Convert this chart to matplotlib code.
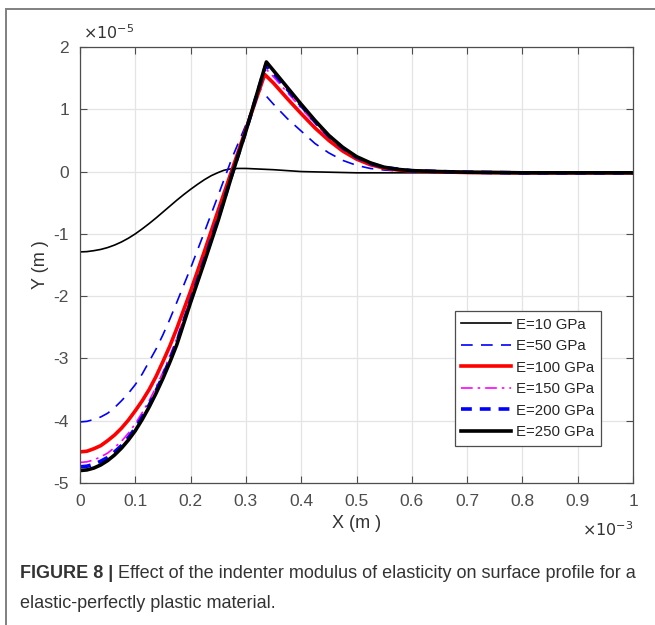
import matplotlib
matplotlib.use("Agg")
import matplotlib.pyplot as plt
from matplotlib.patches import Rectangle
from matplotlib.ticker import FuncFormatter

# surface profiles; x in 1e-3 m, y in 1e-5 m
x_e10 = [0, 0.0125, 0.025, 0.0375, 0.05, 0.0625, 0.075, 0.0875, 0.1, 0.1125, 0.125, 0.1375,
         0.15, 0.1625, 0.175, 0.1875, 0.2, 0.2125, 0.225, 0.2375, 0.25, 0.26, 0.27, 0.285,
         0.3, 0.35, 0.4, 0.45, 0.5, 0.6, 0.8, 1.0]
y_e10 = [-1.29, -1.285, -1.27, -1.25, -1.22, -1.18, -1.13, -1.07, -1.0, -0.92, -0.835, -0.745,
         -0.65, -0.555, -0.46, -0.37, -0.285, -0.205, -0.13, -0.065, -0.015, 0.02, 0.04, 0.05,
         0.05, 0.03, 0.0, -0.01, -0.02, -0.02, -0.02, -0.02]

x_e50 = [0, 0.0125, 0.025, 0.0375, 0.05, 0.0625, 0.075, 0.0875, 0.1, 0.1125, 0.125, 0.1375,
         0.15, 0.1625, 0.175, 0.2, 0.225, 0.25, 0.275, 0.3, 0.326,
         0.35, 0.375, 0.4, 0.425, 0.45, 0.475, 0.5, 0.525, 0.55, 0.575, 0.6, 0.7, 0.8, 1.0]
y_e50 = [-4.02, -4.01, -3.98, -3.94, -3.88, -3.79, -3.68, -3.56, -3.42, -3.25, -3.05, -2.85,
         -2.62, -2.37, -2.10, -1.55, -0.97, -0.38, 0.22, 0.75, 1.32,
         1.08, 0.85, 0.65, 0.45, 0.30, 0.18, 0.10, 0.05, 0.025, 0.01, 0.0, -0.015, -0.02, -0.02]

x_e100 = [0, 0.0125, 0.025, 0.0375, 0.05, 0.0625, 0.075, 0.0875, 0.1, 0.1125, 0.125, 0.1375,
          0.15, 0.1625, 0.175, 0.2, 0.225, 0.25, 0.275, 0.3, 0.334,
          0.35, 0.375, 0.4, 0.425, 0.45, 0.475, 0.5, 0.525, 0.55, 0.575, 0.6, 0.65, 0.7, 0.8, 1.0]
y_e100 = [-4.50, -4.49, -4.45, -4.40, -4.32, -4.23, -4.12, -3.99, -3.84, -3.68, -3.50, -3.29,
          -3.05, -2.80, -2.52, -1.92, -1.28, -0.62, 0.03, 0.68, 1.56,
          1.42, 1.17, 0.93, 0.70, 0.50, 0.33, 0.20, 0.11, 0.055, 0.025, 0.01, -0.005, -0.015, -0.02, -0.02]

x_e150 = [0, 0.0125, 0.025, 0.0375, 0.05, 0.0625, 0.075, 0.0875, 0.1, 0.1125, 0.125, 0.1375,
          0.15, 0.1625, 0.175, 0.2, 0.225, 0.25, 0.275, 0.3, 0.335,
          0.35, 0.375, 0.4, 0.425, 0.45, 0.475, 0.5, 0.525, 0.55, 0.6, 0.65, 0.7, 0.8, 1.0]
y_e150 = [-4.67, -4.66, -4.63, -4.58, -4.52, -4.43, -4.33, -4.20, -4.05, -3.87, -3.68, -3.46,
          -3.22, -2.96, -2.68, -2.03, -1.39, -0.72, -0.02, 0.66, 1.66,
          1.52, 1.27, 1.02, 0.77, 0.55, 0.37, 0.22, 0.125, 0.06, 0.012, 0.0, -0.01, -0.02, -0.02]

x_e200 = [0, 0.0125, 0.025, 0.0375, 0.05, 0.0625, 0.075, 0.0875, 0.1, 0.1125, 0.125, 0.1375,
          0.15, 0.1625, 0.175, 0.2, 0.225, 0.25, 0.275, 0.3, 0.336,
          0.35, 0.375, 0.4, 0.425, 0.45, 0.475, 0.5, 0.525, 0.55, 0.6, 0.65, 0.7, 0.8, 1.0]
y_e200 = [-4.74, -4.73, -4.70, -4.65, -4.59, -4.50, -4.40, -4.27, -4.12, -3.94, -3.75, -3.52,
          -3.28, -3.02, -2.74, -2.07, -1.42, -0.75, -0.04, 0.65, 1.71,
          1.58, 1.32, 1.06, 0.80, 0.57, 0.38, 0.23, 0.13, 0.065, 0.014, 0.0, -0.01, -0.02, -0.02]

x_e250 = [0, 0.0125, 0.025, 0.0375, 0.05, 0.0625, 0.075, 0.0875, 0.1, 0.1125, 0.125, 0.1375,
          0.15, 0.1625, 0.175, 0.2, 0.225, 0.25, 0.275, 0.3, 0.337,
          0.35, 0.375, 0.4, 0.425, 0.45, 0.475, 0.5, 0.525, 0.55, 0.575, 0.6, 0.65, 0.7, 0.8, 1.0]
y_e250 = [-4.80, -4.79, -4.76, -4.71, -4.64, -4.55, -4.44, -4.31, -4.16, -3.98, -3.78, -3.56,
          -3.32, -3.06, -2.78, -2.10, -1.45, -0.78, -0.05, 0.65, 1.76,
          1.62, 1.35, 1.08, 0.82, 0.58, 0.39, 0.24, 0.14, 0.07, 0.035, 0.015, 0.0, -0.01, -0.02, -0.02]

labels = ["E=10 GPa", "E=50 GPa", "E=100 GPa", "E=150 GPa", "E=200 GPa", "E=250 GPa"]
x_ticks = [0, 0.1, 0.2, 0.3, 0.4, 0.5, 0.6, 0.7, 0.8, 0.9, 1.0]
y_ticks = [-5, -4, -3, -2, -1, 0, 1, 2]

plt.rcParams["axes.unicode_minus"] = False
plt.rcParams["font.family"] = ["Liberation Sans", "DejaVu Sans"]

fig = plt.figure(figsize=(6.55, 6.25), dpi=100)
ax = fig.add_axes([80 / 655, 142 / 625, 553 / 655, 436 / 625])

series = [(x_e10, y_e10), (x_e50, y_e50), (x_e100, y_e100),
          (x_e150, y_e150), (x_e200, y_e200), (x_e250, y_e250)]
styles = [
    dict(color="black", lw=1.2, ls="-"),
    dict(color="#0000ff", lw=1.2, ls=(0, (7, 5))),
    dict(color="#ff0000", lw=2.6, ls="-"),
    dict(color="#ff00ff", lw=1.2, ls=(0, (7, 3, 1.5, 3))),
    dict(color="#0000ff", lw=2.6, ls=(0, (3, 2.2))),
    dict(color="black", lw=2.6, ls="-"),
]
for (xs, ys), st, lab in zip(series, styles, labels):
    ax.plot([v * 1e-3 for v in xs], [v * 1e-5 for v in ys], label=lab,
            solid_joinstyle="round", **st)

ax.set_xlim(0, 1e-3)
ax.set_ylim(-5e-5, 2e-5)
ax.set_xticks([t * 1e-3 for t in x_ticks])
ax.set_yticks([t * 1e-5 for t in y_ticks])
ax.xaxis.set_major_formatter(FuncFormatter(lambda v, p: f"{v * 1e3:g}"))
ax.yaxis.set_major_formatter(FuncFormatter(lambda v, p: f"{round(v * 1e5):d}"))

ax.tick_params(direction="in", length=5, width=0.8, colors="#4d4d4d",
               labelsize=12.5, top=True, right=True, pad=8)
for sp in ax.spines.values():
    sp.set_color("#4d4d4d")
    sp.set_linewidth(0.9)
ax.grid(True, color="#e4e4e4", lw=0.9)
ax.set_axisbelow(True)

ax.set_xlabel("X (m )", fontsize=13, color="#333333", labelpad=4)
ax.set_ylabel("Y (m )", fontsize=13, color="#333333", labelpad=3)
ax.text(0.005, 1.012, r"$\times10^{-5}$", transform=ax.transAxes, ha="left", va="bottom",
        fontsize=11.5, color="#333333", family="DejaVu Sans")
ax.text(1.0, -0.085, r"$\times10^{-3}$", transform=ax.transAxes, ha="right", va="top",
        fontsize=11.5, color="#333333", family="DejaVu Sans")

leg = ax.legend(loc="lower right", bbox_to_anchor=(0.942, 0.085), borderaxespad=0,
                fontsize=10.8, handlelength=3.3, handletextpad=0.35, labelspacing=0.5,
                borderpad=0.45, fancybox=False, framealpha=1, edgecolor="#4d4d4d")
leg.get_frame().set_linewidth(0.9)
for t in leg.get_texts():
    t.set_color("#262626")

# outer figure frame (cropped on right and bottom)
fig.patches.append(Rectangle((6 / 655, -0.05), 1.1, 1 - 9 / 625 + 0.05, transform=fig.transFigure,
                             fill=False, edgecolor="#808080", lw=1.4))

# caption: bold lead-in followed by regular text
cap_y = 1 - 574 / 625
lead = fig.text(20 / 655, cap_y, "FIGURE 8 | ", fontsize=13, fontweight="bold",
                color="#333333", va="center", ha="left")
renderer = fig.canvas.get_renderer()
bb = lead.get_window_extent(renderer=renderer)
fig.text(bb.x1 / fig.bbox.width, cap_y,
         "Effect of the indenter modulus of elasticity on surface profile for a",
         fontsize=13, color="#333333", va="center", ha="left")
fig.text(20 / 655, 1 - 604 / 625, "elastic-perfectly plastic material.",
         fontsize=13, color="#333333", va="center", ha="left")

fig.savefig("out.png", dpi=100)
